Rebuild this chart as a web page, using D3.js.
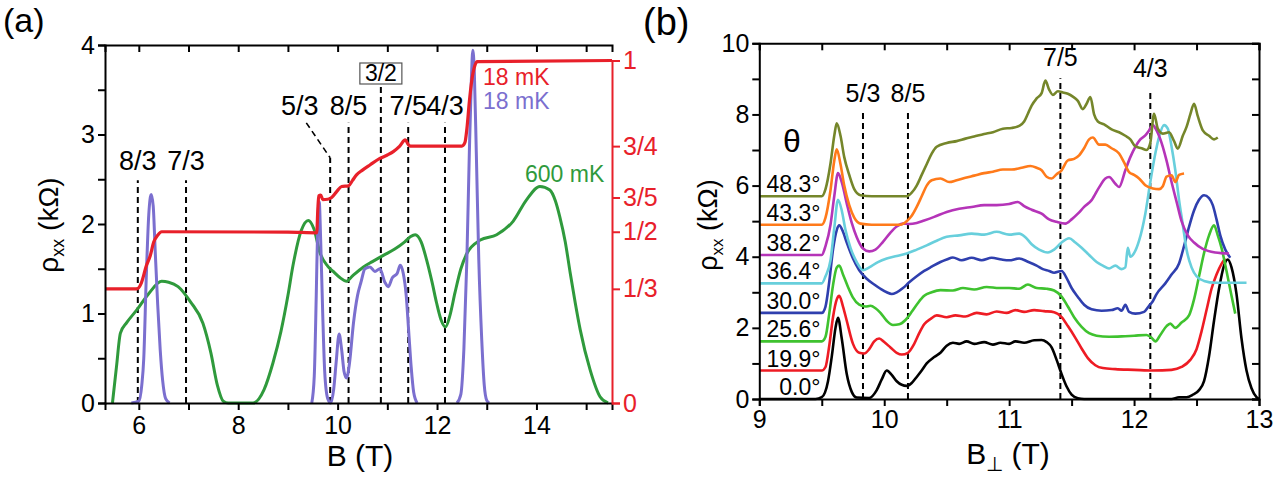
<!DOCTYPE html>
<html><head><meta charset="utf-8">
<script src="https://cdn.jsdelivr.net/npm/d3@7"></script>
<style>body{margin:0;background:#fff}svg{display:block}text{font-family:"Liberation Sans",Arial,sans-serif}</style>
</head><body><svg id="c" width="1278" height="480"></svg>
<script>
// ---------- Panel (a) data ----------
const purple18mK = [[5.85,0],[6.0,0.02],[6.06,0.2],[6.1,0.5],[6.15,1.4],[6.2,2.1],[6.25,2.33],[6.29,2.2],[6.33,1.7],[6.38,1.1],[6.43,0.6],[6.48,0.25],[6.54,0.05],[6.62,0],[6.7,null],
 [9.48,0],[9.53,0.3],[9.57,1.2],[9.6,2.0],[9.63,2.25],[9.66,1.8],[9.7,1.0],[9.74,0.35],[9.8,0.05],[9.86,0],[9.92,0.15],[9.97,0.45],[10.03,0.77],[10.08,0.6],[10.13,0.35],[10.18,0.28],[10.24,0.45],[10.32,0.9],[10.4,1.2],[10.47,1.35],[10.55,1.5],[10.65,1.52],[10.75,1.47],[10.85,1.5],[10.95,1.35],[11.02,1.3],[11.1,1.4],[11.2,1.45],[11.26,1.54],[11.32,1.45],[11.38,1.2],[11.43,0.8],[11.48,0.4],[11.53,0.12],[11.6,0],[11.7,null],
 [12.4,0],[12.48,0.1],[12.54,0.6],[12.6,1.6],[12.65,2.8],[12.69,3.6],[12.72,3.94],[12.75,3.7],[12.79,2.8],[12.84,1.6],[12.9,0.7],[12.95,0.2],[13.0,0.03],[13.05,0]];
const green600mK = [[5.47,0],[5.55,0.4],[5.63,0.78],[5.76,0.9],[5.96,1.04],[6.21,1.23],[6.46,1.36],[6.6,1.35],[6.79,1.3],[7.04,1.13],[7.29,0.89],[7.45,0.56],[7.58,0.2],[7.7,0.02],[7.8,0],[8.3,0],[8.52,0.15],[8.7,0.45],[8.86,0.8],[9.0,1.2],[9.1,1.53],[9.27,1.93],[9.41,2.04],[9.52,1.95],[9.65,1.67],[9.8,1.53],[9.91,1.47],[10.05,1.4],[10.18,1.36],[10.3,1.42],[10.52,1.52],[10.7,1.58],[10.92,1.65],[11.15,1.72],[11.35,1.8],[11.47,1.86],[11.56,1.88],[11.68,1.8],[11.79,1.6],[11.9,1.35],[11.99,1.12],[12.08,0.93],[12.17,0.85],[12.26,0.98],[12.36,1.23],[12.48,1.5],[12.6,1.67],[12.87,1.82],[13.2,1.88],[13.53,2.03],[13.8,2.27],[14.07,2.42],[14.27,2.38],[14.38,2.26],[14.47,2.08],[14.58,1.8],[14.68,1.45],[14.78,1.12],[14.88,0.82],[15.08,0.37],[15.28,0.07],[15.44,0]];
const red18mK = [[5.32,0.333],[5.96,0.333],[6.05,0.35],[6.15,0.4],[6.23,0.43],[6.3,0.47],[6.38,0.49],[6.46,0.5],[9.0,0.499],[9.58,0.497],[9.6,0.56],[9.62,0.605],[9.66,0.607],[9.7,0.594],[9.8,0.595],[9.88,0.6],[9.98,0.617],[10.08,0.632],[10.22,0.634],[10.3,0.65],[10.38,0.666],[10.5,0.68],[10.65,0.695],[10.85,0.714],[11.0,0.724],[11.12,0.734],[11.25,0.75],[11.36,0.768],[11.42,0.755],[11.46,0.75],[12.5,0.75],[12.56,0.76],[12.6,0.8],[12.65,0.88],[12.7,0.943],[12.76,0.985],[12.81,0.997],[15.52,1.0]];
const aFracB = [5.98, 6.95, 9.85, 10.22, 10.87, 11.42, 12.16];
const aFracTop = [2.49, 2.49, 2.74, 3.13, 3.53, 3.13, 3.13];
const aFracText = ["8/3","7/3","5/3","8/5","3/2","7/5","4/3"];
const aRightTicks = [0, 1/3, 1/2, 3/5, 3/4, 1];
const aRightLabels = ["0","1/3","1/2","3/5","3/4","1"];
const aXTicks = [6,8,10,12,14];
const aYTicks = [0,1,2,3,4];

// ---------- Panel (b) data ----------
const angles = ["0.0°","19.9°","25.6°","30.0°","36.4°","38.2°","43.3°","48.3°"];
const offsets = [0, 0.8, 1.62, 2.42, 3.25, 4.05, 4.9, 5.7];
const colorsB = ["#000000","#ee1c24","#3fc22f","#2f3fae","#68cfdc","#b534b8","#ff7a1a","#75862a"];
const th00 = [[9.0,0],[9.45,0],[9.5,0.05],[9.55,0.5],[9.58,1.19],[9.61,2.0],[9.63,2.28],[9.66,1.7],[9.7,0.7],[9.74,0.2],[9.78,0.04],[9.88,0.03],[9.94,0.25],[9.98,0.55],[10.02,0.8],[10.06,0.68],[10.1,0.5],[10.14,0.4],[10.18,0.37],[10.22,0.45],[10.26,0.62],[10.3,0.8],[10.34,1.0],[10.4,1.18],[10.45,1.3],[10.5,1.5],[10.55,1.58],[10.6,1.55],[10.66,1.62],[10.72,1.55],[10.8,1.6],[10.87,1.53],[10.93,1.58],[11.0,1.55],[11.05,1.62],[11.12,1.58],[11.2,1.65],[11.26,1.66],[11.3,1.6],[11.34,1.45],[11.38,1.1],[11.42,0.7],[11.46,0.35],[11.5,0.12],[11.55,0.02],[11.6,0],[12.3,0],[12.36,0.05],[12.42,0.05],[12.47,0.12],[12.52,0.25],[12.56,0.5],[12.6,1.2],[12.64,2.2],[12.68,3.1],[12.72,3.75],[12.75,3.92],[12.78,3.7],[12.82,2.95],[12.86,1.7],[12.9,0.8],[12.94,0.3],[12.98,0.05],[13.0,0]];
const th199 = [[9.0,0.8],[9.5,0.8],[9.53,0.9],[9.56,1.5],[9.59,2.3],[9.62,2.8],[9.64,2.9],[9.67,2.6],[9.7,2.2],[9.75,1.55],[9.8,1.3],[9.84,1.28],[9.88,1.4],[9.92,1.62],[9.96,1.7],[10.0,1.6],[10.05,1.45],[10.1,1.3],[10.14,1.25],[10.19,1.3],[10.24,1.55],[10.28,1.85],[10.32,2.1],[10.37,2.25],[10.42,2.35],[10.5,2.3],[10.57,2.35],[10.65,2.32],[10.74,2.42],[10.82,2.38],[10.9,2.46],[10.98,2.42],[11.05,2.5],[11.12,2.45],[11.2,2.5],[11.28,2.47],[11.36,2.44],[11.42,2.3],[11.47,2.05],[11.53,1.72],[11.58,1.42],[11.63,1.15],[11.69,0.95],[11.75,0.87],[11.85,0.84],[12.0,0.82],[12.15,0.8],[12.3,0.82],[12.38,0.9],[12.45,1.1],[12.5,1.4],[12.54,1.9],[12.58,2.5],[12.62,3.1],[12.66,3.5],[12.7,3.8],[12.73,3.95]];
const th256 = [[9.0,1.62],[9.5,1.62],[9.53,1.75],[9.56,2.4],[9.59,3.2],[9.62,3.7],[9.64,3.75],[9.67,3.5],[9.71,3.15],[9.75,2.85],[9.8,2.65],[9.85,2.6],[9.89,2.62],[9.93,2.55],[9.97,2.42],[10.02,2.2],[10.07,2.08],[10.12,2.1],[10.17,2.22],[10.22,2.45],[10.27,2.7],[10.32,2.9],[10.38,3.0],[10.45,3.06],[10.55,3.05],[10.63,3.12],[10.72,3.08],[10.82,3.15],[10.92,3.12],[11.0,3.12],[11.08,3.1],[11.15,3.22],[11.22,3.12],[11.3,3.1],[11.36,3.05],[11.42,2.88],[11.47,2.6],[11.52,2.3],[11.58,2.03],[11.64,1.85],[11.7,1.78],[11.8,1.75],[11.9,1.76],[12.0,1.78],[12.1,1.8],[12.14,1.72],[12.17,1.62],[12.21,1.8],[12.26,2.05],[12.29,2.12],[12.33,2.0],[12.38,2.15],[12.44,2.35],[12.48,2.8],[12.52,3.45],[12.56,4.1],[12.6,4.6],[12.64,4.88],[12.67,4.6],[12.7,4.25],[12.74,3.6],[12.78,2.9],[12.81,2.4]];
const th300 = [[9.0,2.42],[9.5,2.42],[9.53,2.6],[9.56,3.3],[9.59,4.2],[9.62,4.75],[9.64,4.88],[9.67,4.7],[9.7,4.4],[9.75,3.95],[9.8,3.62],[9.86,3.38],[9.92,3.22],[9.97,3.1],[10.02,3.0],[10.06,2.95],[10.1,3.0],[10.15,3.12],[10.2,3.28],[10.26,3.45],[10.32,3.6],[10.38,3.72],[10.45,3.85],[10.5,3.92],[10.55,3.98],[10.62,3.9],[10.7,3.97],[10.78,3.9],[10.86,3.97],[10.94,3.92],[11.0,3.9],[11.08,3.95],[11.15,3.86],[11.22,3.75],[11.27,3.65],[11.32,3.6],[11.36,3.55],[11.42,3.6],[11.46,3.4],[11.5,3.12],[11.55,2.87],[11.6,2.65],[11.66,2.52],[11.74,2.48],[11.82,2.5],[11.87,2.55],[11.9,2.48],[11.93,2.65],[11.96,2.45],[12.01,2.4],[12.08,2.45],[12.12,2.62],[12.15,2.75],[12.18,2.95],[12.25,3.25],[12.3,3.5],[12.36,3.81],[12.4,4.3],[12.44,4.84],[12.48,5.3],[12.52,5.6],[12.56,5.73],[12.6,5.65],[12.63,5.45],[12.66,5.05],[12.69,4.6],[12.73,4.2],[12.77,3.97]];
const th364 = [[9.0,3.25],[9.5,3.25],[9.53,3.45],[9.57,3.9],[9.6,4.8],[9.63,5.6],[9.66,5.3],[9.69,4.75],[9.73,4.25],[9.78,3.85],[9.83,3.62],[9.88,3.7],[9.95,3.85],[10.02,3.95],[10.1,4.02],[10.18,4.09],[10.26,4.2],[10.34,4.32],[10.42,4.45],[10.5,4.56],[10.6,4.6],[10.7,4.65],[10.8,4.62],[10.9,4.7],[11.0,4.62],[11.08,4.65],[11.13,4.55],[11.18,4.35],[11.24,4.2],[11.31,4.12],[11.36,4.2],[11.42,4.4],[11.48,4.52],[11.53,4.4],[11.58,4.25],[11.64,4.05],[11.7,3.85],[11.75,3.75],[11.8,3.67],[11.85,3.75],[11.9,3.65],[11.93,3.7],[11.95,4.25],[11.97,4.0],[12.0,4.1],[12.04,4.45],[12.09,5.21],[12.13,6.1],[12.17,6.9],[12.2,7.37],[12.24,7.7],[12.27,7.6],[12.3,7.1],[12.33,6.43],[12.36,5.6],[12.39,4.9],[12.42,4.2],[12.46,3.7],[12.5,3.45],[12.56,3.32],[12.65,3.27],[12.9,3.27]];
const th382 = [[9.0,4.05],[9.5,4.05],[9.53,4.3],[9.57,4.9],[9.6,5.7],[9.63,6.35],[9.66,6.1],[9.7,5.5],[9.74,4.95],[9.78,4.55],[9.83,4.23],[9.88,4.15],[9.93,4.2],[9.99,4.42],[10.05,4.68],[10.1,4.85],[10.15,4.93],[10.2,4.92],[10.26,4.95],[10.32,5.02],[10.4,5.12],[10.5,5.26],[10.6,5.35],[10.7,5.4],[10.8,5.45],[10.9,5.45],[11.0,5.48],[11.07,5.54],[11.12,5.42],[11.18,5.32],[11.26,5.21],[11.32,5.05],[11.38,4.98],[11.45,4.93],[11.5,5.05],[11.55,5.21],[11.6,5.4],[11.66,5.59],[11.72,5.95],[11.77,6.2],[11.8,6.24],[11.85,6.05],[11.88,5.96],[11.93,6.43],[11.97,6.8],[12.01,7.09],[12.05,7.3],[12.09,7.41],[12.12,7.55],[12.15,7.7],[12.18,7.55],[12.22,7.2],[12.26,6.7],[12.3,6.1],[12.34,5.55],[12.38,5.0],[12.43,4.6],[12.48,4.4],[12.55,4.22],[12.65,4.12],[12.76,4.09]];
const th433 = [[9.0,4.9],[9.5,4.9],[9.53,5.1],[9.57,5.87],[9.6,6.7],[9.62,7.02],[9.65,6.6],[9.68,6.0],[9.72,5.45],[9.76,5.1],[9.81,4.93],[9.9,4.9],[10.13,4.9],[10.18,5.0],[10.22,5.15],[10.26,5.4],[10.3,5.7],[10.34,6.0],[10.38,6.15],[10.45,6.2],[10.52,6.1],[10.58,6.15],[10.65,6.22],[10.72,6.28],[10.8,6.35],[10.87,6.39],[10.95,6.45],[11.02,6.45],[11.1,6.5],[11.17,6.55],[11.22,6.5],[11.26,6.43],[11.3,6.25],[11.34,6.2],[11.38,6.32],[11.42,6.43],[11.47,6.71],[11.52,6.75],[11.56,6.85],[11.6,7.05],[11.64,7.3],[11.67,7.35],[11.72,7.15],[11.77,7.15],[11.82,7.05],[11.88,6.9],[11.92,6.65],[11.96,6.38],[12.0,6.3],[12.04,6.2],[12.09,6.01],[12.15,5.92],[12.2,5.9],[12.23,5.98],[12.26,6.25],[12.3,6.29],[12.33,6.1],[12.36,6.3],[12.4,6.34]];
const th483 = [[9.0,5.7],[9.5,5.7],[9.53,5.9],[9.57,6.62],[9.6,7.4],[9.62,7.75],[9.65,7.4],[9.68,6.8],[9.72,6.3],[9.76,5.9],[9.81,5.73],[9.9,5.7],[10.18,5.7],[10.22,5.8],[10.26,6.0],[10.3,6.3],[10.34,6.6],[10.38,6.9],[10.42,7.09],[10.5,7.2],[10.58,7.25],[10.65,7.32],[10.72,7.38],[10.8,7.45],[10.87,7.5],[10.95,7.6],[11.02,7.62],[11.08,7.68],[11.12,7.8],[11.15,8.02],[11.18,8.25],[11.22,8.45],[11.26,8.6],[11.29,8.95],[11.32,8.7],[11.35,8.55],[11.39,8.65],[11.43,8.62],[11.47,8.58],[11.51,8.5],[11.55,8.38],[11.59,8.15],[11.62,8.3],[11.65,8.49],[11.68,8.0],[11.71,7.8],[11.76,7.72],[11.82,7.58],[11.88,7.5],[11.93,7.4],[11.97,7.3],[12.01,7.1],[12.06,7.05],[12.1,7.0],[12.13,7.2],[12.16,8.02],[12.19,7.6],[12.23,7.46],[12.28,7.5],[12.32,7.25],[12.35,7.04],[12.39,7.4],[12.42,7.65],[12.45,8.0],[12.48,8.3],[12.51,7.95],[12.55,7.55],[12.6,7.4],[12.64,7.3],[12.67,7.35]];
const seriesB = [th00, th199, th256, th300, th364, th382, th433, th483];
const bFracB = [9.83, 10.19, 11.41, 12.13];
const bFracTop = [8.04, 8.04, 9.02, 8.69];
const bFracText = ["5/3","8/5","7/5","4/3"];
const bFracLabelY = [8.35, 8.35, 9.35, 9.05];
const bXTicks = [9,10,11,12,13];
const bYTicks = [0,2,4,6,8,10];

// ---------- drawing ----------
const svg = d3.select("#c");
const F = '"Liberation Sans", Arial, sans-serif';
svg.append("rect").attr("width",1278).attr("height",480).attr("fill","#fff");

function styleAxis(g, color, fs){
  g.select(".domain").attr("stroke",color).attr("stroke-width",2);
  g.selectAll(".tick line").attr("stroke",color).attr("stroke-width",2);
  g.selectAll(".tick text").attr("fill",color).attr("font-size",fs).attr("font-family",F);
}

// ===== Panel A =====
const ax = d3.scaleLinear().domain([5.32,15.52]).range([105,612]);
const ayL = d3.scaleLinear().domain([0,4]).range([403,45]);
const ayR = d3.scaleLinear().domain([0,1]).range([403,60.5]);
const A = svg.append("g");

aFracB.forEach((b,i)=>{
  A.append("line").attr("x1",ax(b)).attr("x2",ax(b)).attr("y1",ayL(0)).attr("y2",ayL(aFracTop[i]))
   .attr("stroke","#000").attr("stroke-width",2).attr("stroke-dasharray","6,4");
});
A.append("line").attr("x1",ax(9.37)).attr("y1",ayL(3.13)).attr("x2",ax(9.85)).attr("y2",ayL(2.74))
 .attr("stroke","#000").attr("stroke-width",1.6).attr("stroke-dasharray","6,4");

const lineA = d3.line().defined(d=>d[1]!==null).x(d=>ax(d[0])).y(d=>ayL(d[1])).curve(d3.curveMonotoneX);
const lineAR = d3.line().x(d=>ax(d[0])).y(d=>ayR(d[1])).curve(d3.curveMonotoneX);
A.append("path").attr("d",lineA(green600mK)).attr("fill","none").attr("stroke","#2f9a3c").attr("stroke-width",3);
A.append("path").attr("d",lineA(purple18mK)).attr("fill","none").attr("stroke","#7b6fcf").attr("stroke-width",3);
A.append("path").attr("d",lineAR(red18mK)).attr("fill","none").attr("stroke","#e8202a").attr("stroke-width",3.2);

const gAB = A.append("g").attr("transform","translate(0,403)").call(d3.axisBottom(ax).tickValues(d3.range(6,16,1)).tickSize(7).tickFormat(d=>aXTicks.includes(d)?d:""));
styleAxis(gAB,"#000",25); gAB.selectAll(".tick text").attr("dy","0.82em");
const gAT = A.append("g").attr("transform","translate(0,45)").call(d3.axisTop(ax).tickValues(d3.range(6,16,1)).tickSize(-7).tickFormat(""));
styleAxis(gAT,"#000",24);
const gAL = A.append("g").attr("transform","translate(105,0)").call(d3.axisLeft(ayL).tickValues(d3.range(0,4.01,0.5)).tickSize(7).tickFormat(d=>aYTicks.includes(d)?d:""));
styleAxis(gAL,"#000",25);
const gAR = A.append("g").attr("transform","translate(612,0)").call(d3.axisRight(ayR).tickValues(aRightTicks).tickSize(8).tickFormat((d,i)=>aRightLabels[i]));
styleAxis(gAR,"#e8202a",25);

aFracText.forEach((t,i)=>{
  if(t==="5/3"){
    A.append("text").attr("x",ax(9.24)).attr("y",ayL(3.22)).attr("text-anchor","middle").attr("font-size",27).text(t);
  } else if(t==="3/2"){
    const cx = ax(aFracB[i]);
    A.append("rect").attr("x",cx-21).attr("y",63).attr("width",42).attr("height",21).attr("fill","#fff").attr("stroke","#555").attr("stroke-width",1.2);
    A.append("text").attr("x",cx).attr("y",81).attr("text-anchor","middle").attr("font-size",23).text(t);
  } else {
    const ly = (i<2)?ayL(2.6):ayL(3.22);
    A.append("text").attr("x",ax(aFracB[i])).attr("y",ly).attr("text-anchor","middle").attr("font-size",27).text(t);
  }
});
A.append("text").attr("x",483).attr("y",85).attr("font-size",23).attr("fill","#e8202a").text("18 mK");
A.append("text").attr("x",483).attr("y",109).attr("font-size",23).attr("fill","#7b6fcf").text("18 mK");
A.append("text").attr("x",525).attr("y",182).attr("font-size",23).attr("fill","#2f9a3c").text("600 mK");
A.append("text").attr("x",360).attr("y",466).attr("text-anchor","middle").attr("font-size",30).text("B (T)");
const tA = A.append("text").attr("transform","translate(58,225) rotate(-90)").attr("text-anchor","middle").attr("font-size",28);
tA.append("tspan").text("ρ"); tA.append("tspan").attr("dy",6).attr("font-size",18).text("xx"); tA.append("tspan").attr("dy",-6).text(" (kΩ)");
A.append("text").attr("x",3).attr("y",32).attr("font-size",34).text("(a)");

// ===== Panel B =====
const bx = d3.scaleLinear().domain([9,13]).range([759.3,1259]);
const by = d3.scaleLinear().domain([0,10]).range([399,43.3]);
const B = svg.append("g");
bFracB.forEach((b,i)=>{
  B.append("line").attr("x1",bx(b)).attr("x2",bx(b)).attr("y1",by(0)).attr("y2",by(bFracTop[i]))
   .attr("stroke","#000").attr("stroke-width",2).attr("stroke-dasharray","6,4");
  B.append("text").attr("x",bx(b)).attr("y",by(bFracLabelY[i])).attr("text-anchor","middle").attr("font-size",25).text(bFracText[i]);
});
const lineB = d3.line().x(d=>bx(d[0])).y(d=>by(d[1])).curve(d3.curveMonotoneX);
seriesB.forEach((s,i)=>{
  B.append("path").attr("d",lineB(s)).attr("fill","none").attr("stroke",colorsB[i]).attr("stroke-width",2.6);
});
angles.forEach((a,i)=>{
  B.append("text").attr("x",bx(9.49)).attr("y",by(offsets[i])-4).attr("text-anchor","end").attr("font-size",23).text(a);
});
B.append("text").attr("x",792).attr("y",152).attr("text-anchor","middle").attr("font-size",32).attr("font-family",'"Liberation Serif","Times New Roman",serif').text("θ");

const gBB = B.append("g").attr("transform","translate(0,399)").call(d3.axisBottom(bx).tickValues(d3.range(9,13.01,0.5)).tickSize(7).tickFormat(d=>bXTicks.includes(d)?d:""));
styleAxis(gBB,"#000",25); gBB.selectAll(".tick text").attr("dy","0.75em");
const gBT = B.append("g").attr("transform","translate(0,43.3)").call(d3.axisTop(bx).tickValues(d3.range(9,13.01,0.5)).tickSize(-7).tickFormat(""));
styleAxis(gBT,"#000",24);
const gBL = B.append("g").attr("transform","translate(759.3,0)").call(d3.axisLeft(by).tickValues(d3.range(0,10.01,1)).tickSize(7).tickFormat(d=>bYTicks.includes(d)?d:""));
styleAxis(gBL,"#000",25);
const gBR = B.append("g").attr("transform","translate(1259,0)").call(d3.axisRight(by).tickValues(d3.range(0,10.01,1)).tickSize(-7).tickFormat(""));
styleAxis(gBR,"#000",24);

const tB = B.append("text").attr("transform","translate(717,225) rotate(-90)").attr("text-anchor","middle").attr("font-size",27);
tB.append("tspan").text("ρ"); tB.append("tspan").attr("dy",6).attr("font-size",17).text("xx"); tB.append("tspan").attr("dy",-6).text(" (kΩ)");
const tX = B.append("text").attr("x",1008).attr("y",464).attr("text-anchor","middle").attr("font-size",30);
tX.append("tspan").text("B"); tX.append("tspan").attr("dy",7).attr("font-size",20).text("⊥"); tX.append("tspan").attr("dy",-7).text(" (T)");
B.append("text").attr("x",643).attr("y",35).attr("font-size",38).text("(b)");
</script></body></html>
